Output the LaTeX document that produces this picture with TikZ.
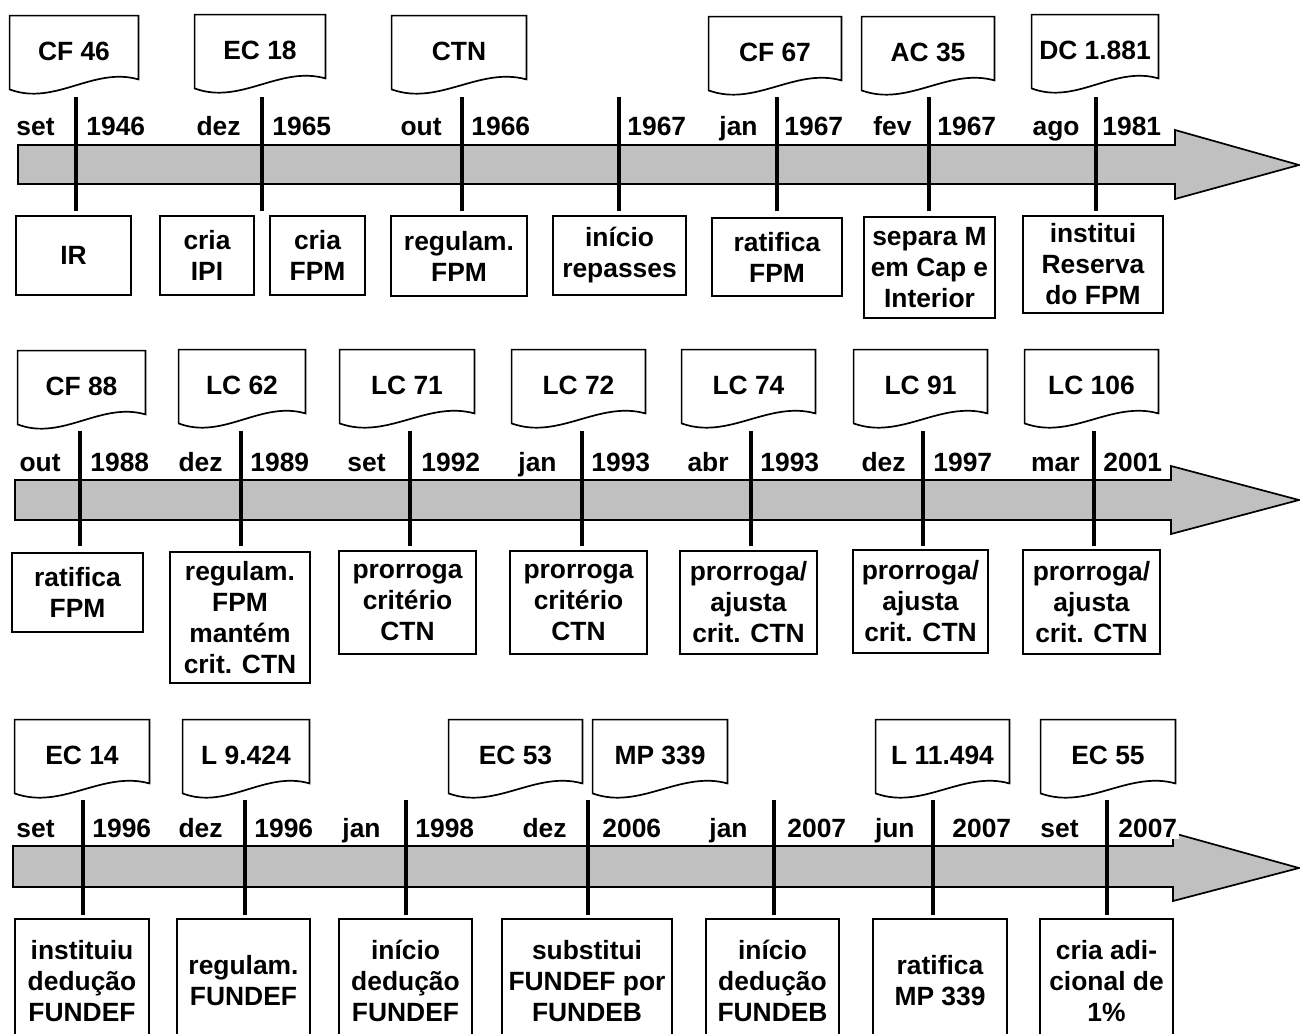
\documentclass[tikz,border=0pt]{standalone}
\usepackage{fontspec}
\setmainfont{Liberation Sans}
\usetikzlibrary{calc}
\definecolor{barfill}{RGB}{192,192,192}
\tikzset{
  lbl/.style={font=\fontsize{13.2}{15.5}\selectfont\bfseries},
  evbox/.style={draw, line width=0.85pt, align=center, inner sep=0pt, lbl},
  docbox/.style={lbl, inner sep=0pt, text height=13.1pt, text depth=0pt},
  docedge/.style={line width=0.85pt},
  datelbl/.style={lbl, fill=white, inner sep=1pt},
  tickline/.style={line width=1.7pt},
  timebar/.style={draw, line width=0.85pt, fill=barfill},
}
% document symbol: straight top, wavy bottom (name, left, right, top, text)
\newcommand{\docat}[5]{%
  \node[docbox, minimum width={(#3-#2)*0.5pt}, minimum height=31.5pt] (#1) at ({(#2+#3)/2},{#4+31.5}) {#5};
  \draw[docedge] (#1.north west) -- (#1.north east) -- (#1.south east)
    .. controls ($(#1.south west)!0.65!(#1.south east)+(0,-13)$)
    and ($(#1.south west)!0.35!(#1.south east)+(0,27)$)
    .. ($(#1.south west)+(0,10)$) -- cycle;}
% event box (name, left, top, right, bottom, text)
\newcommand{\evat}[6]{%
  \node[evbox, minimum width={(#4-#2)*0.5pt}, minimum height={(#5-#3)*0.5pt}] (#1) at ({(#2+#4)/2},{(#3+#5)/2}) {#6};}

\begin{document}
\begin{tikzpicture}[x=0.5pt, y=-0.5pt]
  \useasboundingbox (0,0) rectangle (1300,1033);

  % ---- 1946 - 1981
  \draw[timebar] (18,145) -- (1175,145) -- (1175,130) -- (1299,165) -- (1175,199) -- (1175,184) -- (18,184) -- cycle;
  \docat{d11}{10}{138}{16}{CF 46}
  \docat{d12}{195}{325}{15}{EC 18}
  \docat{d13}{392}{526}{16}{CTN}
  \docat{d14}{709}{841}{17}{CF 67}
  \docat{d15}{862}{994}{17}{AC 35}
  \docat{d16}{1032}{1158}{15}{DC 1.881}
  \foreach \n/\x/\m/\mx/\yr/\yx in {1/76/set/57/1946/84, 2/262/dez/243/1965/270, 3/462/out/444/1966/469,
      4/619/{}/590/1967/625, 5/777/jan/760/1967/782, 6/929/fev/914/1967/935, 7/1096/ago/1082/1981/1100} {
    \coordinate (r1t\n) at (\x,97);
    \coordinate (r1b\n) at (\x,211);
    \draw[tickline] (r1t\n) -- (r1b\n);
    \node[datelbl, anchor=base east] (r1m\n) at (\mx,135) {\m};
    \node[datelbl, anchor=base west] (r1y\n) at (\yx,135) {\yr};
  }
  \evat{b11}{16}{216}{131}{295}{IR}
  \evat{b12}{160}{216}{254}{295}{cria\\IPI}
  \evat{b13}{270}{216}{365}{295}{cria\\FPM}
  \evat{b14}{391}{216}{527}{296}{regulam.\\FPM}
  \evat{b15}{553}{216}{686}{295}{início\\repasses}
  \evat{b16}{712}{218}{842}{296}{ratifica\\FPM}
  \evat{b17}{864}{217}{995}{318}{separa M\\em Cap e\\Interior}
  \evat{b18}{1023}{216}{1163}{313}{institui\\Reserva\\do FPM}

  % ---- 1988 - 2001
  \draw[timebar] (15,480) -- (1171,480) -- (1171,466) -- (1299,500) -- (1171,534) -- (1171,520) -- (15,520) -- cycle;
  \docat{d21}{18}{145}{351}{CF 88}
  \docat{d22}{179}{305}{350}{LC 62}
  \docat{d23}{340}{474}{350}{LC 71}
  \docat{d24}{512}{645}{350}{LC 72}
  \docat{d25}{682}{815}{350}{LC 74}
  \docat{d26}{854}{987}{350}{LC 91}
  \docat{d27}{1025}{1158}{350}{LC 106}
  \foreach \n/\x/\m/\mx/\yr/\yx in {1/80/out/63/1988/88, 2/241/dez/225/1989/248, 3/410/set/388/1992/419,
      4/582/jan/559/1993/589, 5/751/abr/731/1993/758, 6/923/dez/908/1997/931, 7/1094/mar/1082/2001/1101} {
    \coordinate (r2t\n) at (\x,431);
    \coordinate (r2b\n) at (\x,546);
    \draw[tickline] (r2t\n) -- (r2b\n);
    \node[datelbl, anchor=base east] (r2m\n) at (\mx,471) {\m};
    \node[datelbl, anchor=base west] (r2y\n) at (\yx,471) {\yr};
  }
  \evat{b21}{12}{553}{143}{632}{ratifica\\FPM}
  \evat{b22}{170}{552}{310}{683}{regulam.\\FPM\\mantém\\crit. CTN}
  \evat{b23}{339}{551}{476}{654}{prorroga\\critério\\CTN}
  \evat{b24}{510}{551}{647}{654}{prorroga\\critério\\CTN}
  \evat{b25}{680}{551}{817}{654}{prorroga/\\ajusta\\crit. CTN}
  \evat{b26}{853}{550}{988}{653}{prorroga/\\ajusta\\crit. CTN}
  \evat{b27}{1023}{550}{1160}{654}{prorroga/\\ajusta\\crit. CTN}

  % ---- 1996 - 2007
  \draw[timebar] (13,846) -- (1173,846) -- (1173,833) -- (1299,868) -- (1173,901) -- (1173,887) -- (13,887) -- cycle;
  \docat{d31}{15}{149}{720}{EC 14}
  \docat{d32}{183}{309}{720}{L 9.424}
  \docat{d33}{449}{582}{720}{EC 53}
  \docat{d34}{593}{727}{720}{MP 339}
  \docat{d35}{876}{1009}{720}{L 11.494}
  \docat{d36}{1041}{1175}{720}{EC 55}
  \foreach \n/\x/\m/\mx/\yr/\yx in {1/83/set/57/1996/90, 2/245/dez/225/1996/252, 3/406/jan/383/1998/413,
      4/588/dez/569/2006/600, 5/774/jan/750/2007/785, 6/933/jun/917/2007/950, 7/1107/set/1081/2007/1116} {
    \coordinate (r3t\n) at (\x,800);
    \coordinate (r3b\n) at (\x,915);
    \draw[tickline] (r3t\n) -- (r3b\n);
    \node[datelbl, anchor=base east] (r3m\n) at (\mx,837) {\m};
    \node[datelbl, anchor=base west] (r3y\n) at (\yx,837) {\yr};
  }
  \evat{b31}{15}{919}{149}{1043}{instituiu\\dedução\\FUNDEF}
  \evat{b32}{177}{919}{310}{1043}{regulam.\\FUNDEF}
  \evat{b33}{339}{919}{472}{1043}{início\\dedução\\FUNDEF}
  \evat{b34}{502}{919}{672}{1043}{substitui\\FUNDEF por\\FUNDEB}
  \evat{b35}{706}{919}{839}{1043}{início\\dedução\\FUNDEB}
  \evat{b36}{873}{919}{1007}{1043}{ratifica\\MP 339}
  \evat{b37}{1040}{919}{1173}{1043}{cria adi-\\cional de\\1\%}
\end{tikzpicture}
\end{document}
